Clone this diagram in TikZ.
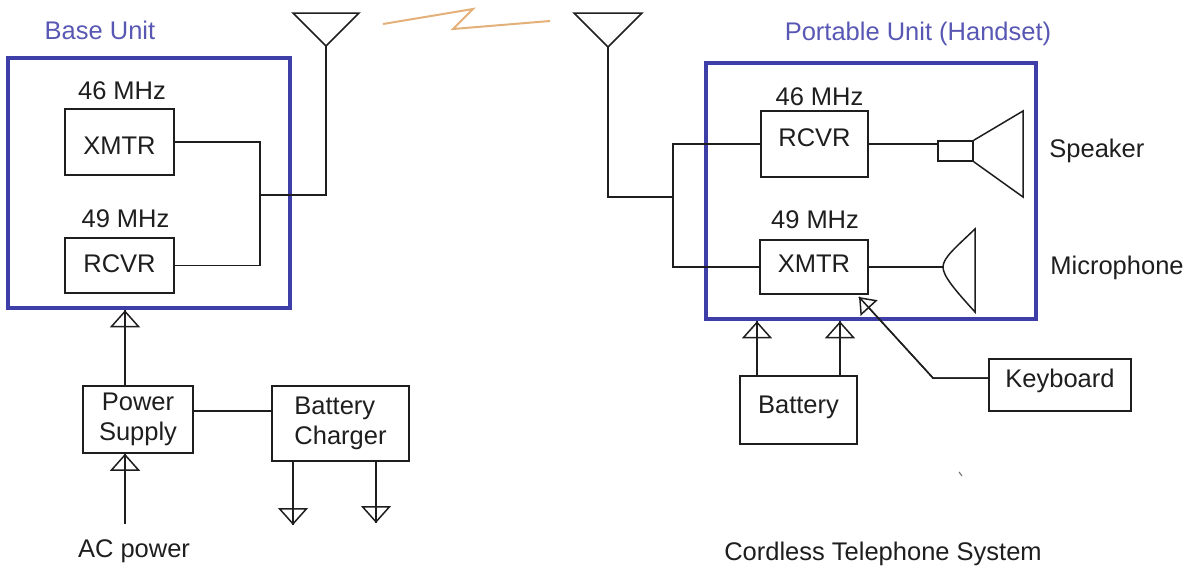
\documentclass[tikz,border=0pt]{standalone}
\usepackage{fontspec}
\setmainfont{Liberation Sans}
\usetikzlibrary{arrows.meta,calc}
\definecolor{unitblue}{RGB}{62,62,168}
\definecolor{labelblue}{RGB}{88,88,180}
\definecolor{spark}{RGB}{228,176,122}
\definecolor{ink}{RGB}{30,30,30}
\begin{document}
\begin{tikzpicture}[x=0.5pt,y=-0.5pt,
  every node/.style={font=\fontsize{12.75}{15}\selectfont, text=ink, inner sep=0pt},
  wire/.style={draw=ink, line width=0.75pt},
  blk/.style={draw=ink, line width=0.75pt, inner sep=0pt},
  unit/.style={draw=unitblue, line width=2.25pt, inner sep=0pt},
  tip/.style={-{Triangle[open,width=15pt,length=8.5pt]}, postaction={draw=ink,line width=0.75pt,-}},
  ktip/.style={-{Triangle[open,width=11.5pt,length=7.5pt]}, postaction={draw=ink,line width=0.75pt,-}}]
\useasboundingbox (0,0) rectangle (1189,568);

% unit frames
\node[unit, minimum width=141pt, minimum height=125pt] (base) at (149,183) {};
\node[unit, minimum width=165pt, minimum height=128pt] (port) at (871,191) {};

% blocks
\node[blk, minimum width=54.5pt, minimum height=33pt, text height=12pt, text depth=0pt] (bx) at (119.5,142) {XMTR};
\node[blk, minimum width=54.5pt, minimum height=27.5pt, text height=6.5pt, text depth=0pt] (br) at (119.5,265.5) {RCVR};
\node[blk, minimum width=53.5pt, minimum height=33pt, text height=2pt, text depth=0pt] (pr) at (814.5,144) {RCVR};
\node[blk, minimum width=54pt, minimum height=27pt, text height=5pt, text depth=0pt] (px) at (814,267) {XMTR};
\node[blk, minimum width=55pt, minimum height=33.5pt, align=center] (ps) at (138,419.5) {Power\\Supply};
\node[blk, minimum width=68.5pt, minimum height=37.5pt, align=left] (bc) at (340.5,423.5) {Battery\\Charger};
\node[blk, minimum width=58.5pt, minimum height=34pt, text height=3pt, text depth=0pt] (bat) at (798.5,410) {Battery};
\node[blk, minimum width=71pt, minimum height=26pt, text height=2pt, text depth=0pt] (kbd) at (1060,385) {Keyboard};
\node[blk, minimum width=17.5pt, minimum height=10pt] (spk) at (955.5,151) {};

% labels
\node[anchor=base, text=labelblue] (lbase) at (100,39) {Base Unit};
\node[anchor=base, text=labelblue] (lport) at (918,40) {Portable Unit (Handset)};
\node[anchor=base] (f1) at (122,99) {46 MHz};
\node[anchor=base] (f2) at (125.5,227) {49 MHz};
\node[anchor=base] (f3) at (819.5,105) {46 MHz};
\node[anchor=base] (f4) at (815,228) {49 MHz};
\node[anchor=base west] (lspk) at (1049,157) {Speaker};
\node[anchor=base west] (lmic) at (1050,274) {Microphone};
\node[anchor=base] (lac) at (134,557) {AC power};
\node[anchor=base] (ltitle) at (883,560) {Cordless Telephone System};

% antennas
\coordinate (antL) at (326,46);
\coordinate (antR) at (608,47);
\draw[wire] (293,13) -- (359,13) -- (antL) -- cycle;
\draw[wire] (574,13) -- (642,13) -- (antR) -- cycle;
\draw[draw=spark, line width=1pt] (383,24) -- (473,9) -- (453,29) -- (550,21);

% base wiring
\coordinate (bj) at (260,195);
\draw[wire] (bx.east) -- (bx.east -| bj) -- (br.east -| bj) -- (br.east);
\draw[wire] (bj) -- (bj -| antL) -- (antL);

% portable wiring
\coordinate (pj) at (673,197);
\draw[wire] (antR) -- (antR |- pj) -- (pj);
\draw[wire] (pr.west) -- (pr.west -| pj) -- (px.west -| pj) -- (px.west);

% speaker
\draw[wire] (pr.east) -- (pr.east -| spk.west);
\draw[wire] (spk.north east) -- (1023,111) -- (1023,197) -- (spk.south east);

% microphone
\coordinate (mic) at (943,267);
\draw[wire] (px.east) -- (mic);
\draw[wire] (975,229) .. controls (955,248) and (943,258) .. (mic) .. controls (943,276) and (955,290) .. (975,312) -- cycle;

% keyboard
\coordinate (kb1) at ($(kbd.west)+(0,-7)$);
\coordinate (kb2) at (933,378);
\coordinate (kap) at (859,297);
\draw[wire, ktip] (kb1) -- (kb2) -- (kap);

% battery feeds
\coordinate (b1) at (757,0);
\coordinate (b2) at (840,0);
\draw[wire, tip] (bat.north -| b1) -- (b1 |- port.south);
\draw[wire, tip] (bat.north -| b2) -- (b2 |- port.south);

% base power
\coordinate (pu) at (125,0);
\draw[wire, tip] (ps.north -| pu) -- (pu |- base.south);
\coordinate (ac) at (125,524);
\draw[wire, tip] (ac) -- (ac |- ps.south);
\coordinate (psr) at ($(ps.east)+(0,-8.5)$);
\draw[wire] (psr) -- (psr -| bc.west);

% grounds
\coordinate (g1) at (293,525);
\coordinate (g2) at (376,523);
\draw[wire, tip] (bc.south -| g1) -- (g1);
\draw[wire, tip] (bc.south -| g2) -- (g2);

% stray mark
\draw[draw=ink!60, line width=0.6pt] (959,472) -- (962,476);
\end{tikzpicture}
\end{document}
